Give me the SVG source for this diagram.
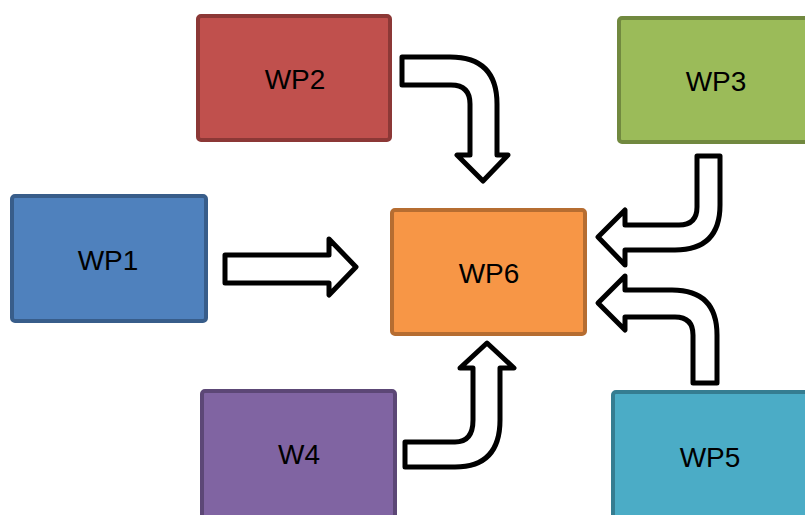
<svg xmlns="http://www.w3.org/2000/svg" width="805" height="515" viewBox="0 0 805 515">
  <style>
    .box { stroke-width: 4; }
    .label { font-family: "Liberation Sans", Arial, sans-serif; font-size: 28px; fill: #000; text-anchor: middle; }
    .arrow { fill: #fff; stroke: #000; stroke-width: 5; stroke-linejoin: round; }
  </style>
  <rect width="805" height="515" fill="#fff"/>

  <g id="wp1">
    <rect class="box" x="12" y="196" width="194" height="125" rx="3" fill="#4F81BD" stroke="#385D8A"/>
    <text class="label" x="108" y="270">WP1</text>
  </g>
  <g id="wp2">
    <rect class="box" x="198" y="16" width="192" height="124" rx="3" fill="#C0504D" stroke="#8C3836"/>
    <text class="label" x="295" y="89">WP2</text>
  </g>
  <g id="wp3">
    <rect class="box" x="619" y="18" width="200" height="124" rx="3" fill="#9BBB59" stroke="#71893F"/>
    <text class="label" x="716" y="91">WP3</text>
  </g>
  <g id="wp6">
    <rect class="box" x="392" y="210" width="193" height="124" rx="3" fill="#F79646" stroke="#B66D31"/>
    <text class="label" x="489" y="283">WP6</text>
  </g>
  <g id="w4">
    <rect class="box" x="202" y="391" width="193" height="130" rx="3" fill="#8064A2" stroke="#5C4776"/>
    <text class="label" x="299" y="464">W4</text>
  </g>
  <g id="wp5">
    <rect class="box" x="613" y="392" width="200" height="130" rx="3" fill="#4BACC6" stroke="#357D91"/>
    <text class="label" x="710" y="467">WP5</text>
  </g>

  <g id="connectors">
    <!-- WP1 to WP6: straight block arrow -->
    <path class="arrow" d="M225,255 L329,255 L329,239 L356,267 L329,295 L329,283 L225,283 Z"/>
    <!-- WP2 to WP6: bent arrow, right then down -->
    <path class="arrow" d="M402,57 L450,57 Q497,57 497,104 L497,155 L508,155 L483,181 L457,155 L470,155 L470,104 Q470,85 451,85 L402,85 Z"/>
    <!-- WP3 to WP6: bent arrow, down then left -->
    <path class="arrow" d="M697,156 L720,156 L720,205 Q720,250 675,250 L625,250 L625,265 L598,237 L625,210 L625,225 L679,225 Q697,225 697,207 Z"/>
    <!-- WP5 to WP6: bent arrow, up then left -->
    <path class="arrow" d="M693,383 L717,383 L717,335 Q717,290 672,290 L625,290 L625,276 L598,303 L625,330 L625,317 L675,317 Q693,317 693,335 Z"/>
    <!-- W4 to WP6: bent arrow, right then up -->
    <path class="arrow" d="M405,442 L455,442 Q473,442 473,420 L473,368 L460,368 L487,343 L514,368 L500,368 L500,420 Q500,467 455,467 L405,467 Z"/>
  </g>
</svg>
